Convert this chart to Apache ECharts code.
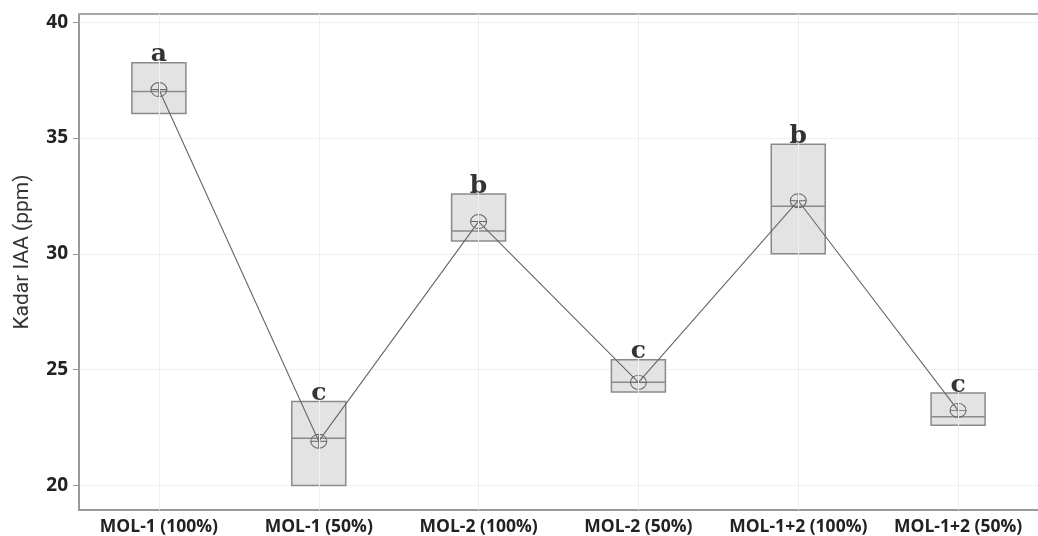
<!DOCTYPE html>
<html>
<head>
<meta charset="utf-8">
<script src="https://cdn.jsdelivr.net/npm/echarts@6/dist/echarts.min.js"></script>
<style>html,body{margin:0;padding:0;background:#fff}#c{width:1038px;height:536px}</style>
</head>
<body>
<div id="c"></div>
<script>
const categories = ['MOL-1 (100%)', 'MOL-1 (50%)', 'MOL-2 (100%)', 'MOL-2 (50%)', 'MOL-1+2 (100%)', 'MOL-1+2 (50%)'];
const q1Values = [36.05, 20.0, 30.55, 24.03, 30.0, 22.6];
const medianValues = [37.0, 22.04, 30.98, 24.45, 32.05, 22.97];
const q3Values = [38.25, 23.62, 32.58, 25.43, 34.73, 23.99];
const meanValues = [37.09, 21.91, 31.39, 24.45, 32.29, 23.24];
const groupLetters = ['a', 'c', 'b', 'c', 'b', 'c'];

const boxData = categories.map((c, i) => [q1Values[i], q1Values[i], medianValues[i], q3Values[i], q3Values[i]]);
const letterData = categories.map((c, i) => ({ value: q3Values[i], label: { formatter: groupLetters[i] } }));

const chart = echarts.init(document.getElementById('c'));
const meanSymbol = 'path://M0,7A8,7 0 1,1 16,7A8,7 0 1,1 0,7Z M8,0L8,14 M0,7L16,7';
chart.setOption({
  animation: false,
  grid: { left: 79, right: -8, top: 14, bottom: 25 },
  xAxis: [
    {
      type: 'category', data: categories, boundaryGap: true,
      axisLine: { lineStyle: { color: '#9a9a9a', width: 2 } },
      axisTick: { alignWithLabel: true, length: 5, lineStyle: { color: '#9a9a9a' } },
      axisLabel: { interval: 0, margin: 8, color: '#222', fontFamily: 'Open Sans', fontWeight: 'bold', fontSize: 17.5 },
      splitLine: { show: false }
    },
    {
      type: 'category', data: categories, position: 'top',
      axisLine: { lineStyle: { color: '#a8a8a8', width: 2 } },
      axisTick: { show: false }, axisLabel: { show: false }, splitLine: { show: false }
    }
  ],
  yAxis: {
    type: 'value', min: 18.94, max: 40.35, splitNumber: 5,
    name: 'Kadar IAA (ppm)', nameLocation: 'middle', nameGap: 46,
    nameTextStyle: { fontFamily: 'Roboto', fontSize: 21, color: '#333', padding: [0, 0, 0, 20] },
    axisLine: { show: true, lineStyle: { color: '#9a9a9a', width: 2 } },
    axisTick: { show: true, length: 6, lineStyle: { color: '#9a9a9a' } },
    axisLabel: {
      margin: 11, color: '#222', fontFamily: 'Open Sans', fontWeight: 'bold', fontSize: 19,
      showMinLabel: false, showMaxLabel: false,
      formatter: v => (Math.abs(v / 5 - Math.round(v / 5)) < 1e-6 ? String(v) : '')
    },
    splitLine: { show: true, lineStyle: { color: '#efefef', width: 1 } }
  },
  series: [
    {
      type: 'scatter', data: [], z: 1, silent: true,
      markLine: {
        silent: true, symbol: 'none', label: { show: false },
        lineStyle: { color: '#efefef', type: 'solid', width: 1 },
        data: categories.map((c, i) => ({ xAxis: i }))
      }
    },
    {
      type: 'boxplot', data: boxData, z: 2, boxWidth: [54, 54],
      itemStyle: { color: '#e3e3e3', borderColor: '#8a8a8a', borderWidth: 1.5 }
    },
    {
      type: 'line', data: meanValues, z: 4,
      symbol: meanSymbol, symbolSize: [16, 14], showSymbol: true,
      lineStyle: { color: '#666666', width: 1.1 },
      itemStyle: { color: 'rgba(0,0,0,0)', borderColor: '#666666', borderWidth: 1 }
    },
    {
      type: 'scatter', data: letterData, z: 5, symbolSize: 1,
      itemStyle: { color: 'rgba(0,0,0,0)' },
      label: {
        show: true, position: 'top', distance: -5,
        fontFamily: 'DejaVu Serif', fontWeight: 'bold', fontSize: 25, color: '#000'
      }
    }
  ]
});
</script>
</body>
</html>
